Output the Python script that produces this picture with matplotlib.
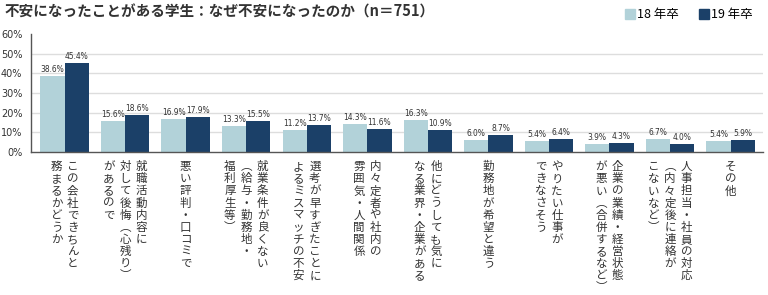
import matplotlib
matplotlib.use('Agg')
import matplotlib.pyplot as plt
from matplotlib.patches import Patch
import numpy as np

plt.rcParams['font.family'] = ['Noto Sans CJK JP', 'DejaVu Sans']

# column texts of each vertical label, right column first
labels = [
    ['この会社できちんと', '務まるかどうか'],
    ['就職活動内容に', '対して後悔︵心残り︶', 'があるので'],
    ['悪い評判・口コミで'],
    ['就業条件が良くない', '︵給与・勤務地・', '福利厚生等︶'],
    ['選考が早すぎたことに', 'よるミスマッチの不安'],
    ['内々定者や社内の', '雰囲気・人間関係'],
    ['他にどうしても気に', 'なる業界・企業がある'],
    ['勤務地が希望と違う'],
    ['やりたい仕事が', 'できなさそう'],
    ['企業の業績・経営状態', 'が悪い︵合併するなど︶'],
    ['人事担当・社員の対応', '︵内々定後に連絡が', 'こないなど︶'],
    ['その他'],
]
grad18 = [38.6, 15.6, 16.9, 13.3, 11.2, 14.3, 16.3, 6.0, 5.4, 3.9, 6.7, 5.4]
grad19 = [45.4, 18.6, 17.9, 15.5, 13.7, 11.6, 10.9, 8.7, 6.4, 4.3, 4.0, 5.9]
yticks = [0, 10, 20, 30, 40, 50, 60]

c18 = '#b2d2d9'
c19 = '#1b4068'

fig = plt.figure(figsize=(7.68, 2.95), dpi=100)
ax = fig.add_axes([0.040, 0.485, 0.953, 0.40])

x = np.arange(len(labels))
w = 0.4
b1 = ax.bar(x - w / 2, grad18, w, color=c18, zorder=2)
b2 = ax.bar(x + w / 2, grad19, w, color=c19, zorder=2)

for bars, vals in [(b1, grad18), (b2, grad19)]:
    for r, v in zip(bars, vals):
        ax.annotate('{:.1f}%'.format(v), (r.get_x() + r.get_width() / 2, v),
                    xytext=(0, 1.5), textcoords='offset points',
                    ha='center', va='bottom', fontsize=6, color='#333333',
                    family='DejaVu Sans', stretch='condensed')

ax.set_xlim(-0.56, len(labels) - 0.47)
ax.set_ylim(0, 60)
ax.set_yticks(yticks)
ax.set_yticklabels(['{}%'.format(t) for t in yticks], fontsize=7, color='#333333',
                   family='DejaVu Sans')
ax.set_xticks([])
ax.tick_params(axis='y', length=0, pad=6)
ax.hlines(yticks[1:-1], -1, len(labels) + 1, color='#dddddd', lw=1, zorder=1)

for s in ['top', 'right']:
    ax.spines[s].set_visible(False)
for s in ['left', 'bottom']:
    ax.spines[s].set_color('#555555')
    ax.spines[s].set_linewidth(1)

# vertical labels, columns right to left
col_gap = 11.8
for i, cols in enumerate(labels):
    n = len(cols)
    for j, col in enumerate(cols):
        off = ((n - 1) / 2 - j) * col_gap
        ax.annotate('\n'.join(col), (i, 0), xycoords=('data', 'axes fraction'),
                    xytext=(off, -6), textcoords='offset points',
                    ha='center', va='top', fontsize=8.3, color='#333333',
                    linespacing=0.91, annotation_clip=False)

fig.text(0.006, 0.96, '不安になったことがある学生：なぜ不安になったのか（n＝751）',
         fontsize=10.5, fontweight='bold', color='#333333', va='center')

handles = [Patch(color=c18, label='18 年卒'), Patch(color=c19, label='19 年卒')]
fig.legend(handles=handles, loc='center right', bbox_to_anchor=(0.995, 0.95),
           ncol=2, frameon=False, fontsize=9, handlelength=0.8, handleheight=0.8,
           handletextpad=0.2, columnspacing=1.6)

fig.savefig('out.png', dpi=100)
